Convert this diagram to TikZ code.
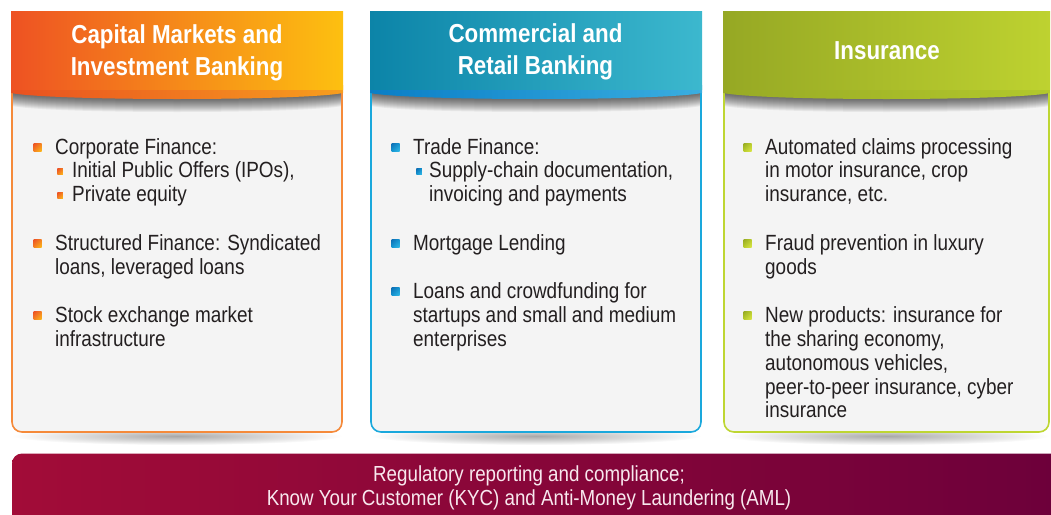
\documentclass[tikz,border=0pt]{standalone}
\usepackage{fontspec}
\setmainfont{Liberation Sans}[FakeStretch=0.86]
\usetikzlibrary{shadings}
\definecolor{txtc}{HTML}{231F20}
\definecolor{bodyc}{HTML}{F4F4F4}
% column A (orange)
\definecolor{AhL}{RGB}{238,82,35}
\definecolor{AhM}{RGB}{244,128,34}
\definecolor{AhR}{RGB}{253,192,16}
\definecolor{AbL}{RGB}{233,80,32}
\definecolor{AbR}{RGB}{247,158,30}
\definecolor{Abd}{RGB}{245,138,58}
\definecolor{AqL}{RGB}{236,80,36}
\definecolor{AqM}{RGB}{245,130,34}
\definecolor{AqR}{RGB}{252,186,24}
% column B (blue)
\definecolor{BhL}{RGB}{12,132,168}
\definecolor{BhM}{RGB}{4,164,196}
\definecolor{BhR}{RGB}{60,184,206}
\definecolor{BbL}{RGB}{10,126,198}
\definecolor{BbR}{RGB}{58,174,224}
\definecolor{Bbd}{RGB}{26,168,220}
\definecolor{BqL}{RGB}{14,110,180}
\definecolor{BqM}{RGB}{20,150,210}
\definecolor{BqR}{RGB}{50,185,230}
% column C (lime)
\definecolor{ChL}{RGB}{150,168,36}
\definecolor{ChM}{RGB}{154,168,38}
\definecolor{ChR}{RGB}{190,210,48}
\definecolor{CbL}{RGB}{152,170,37}
\definecolor{CbR}{RGB}{178,200,44}
\definecolor{Cbd}{RGB}{190,214,50}
\definecolor{CqL}{RGB}{150,170,35}
\definecolor{CqM}{RGB}{185,205,45}
\definecolor{CqR}{RGB}{218,230,70}
% bottom bar
\definecolor{RgL}{RGB}{162,12,56}
\definecolor{RgR}{RGB}{108,0,58}
\definecolor{RgT}{RGB}{248,232,238}

\newcommand\mypanel[3]{%
  \pgfmathsetmacro\pmid{(#1+#2)/2}%
  \pgfmathsetmacro\prad{(#2-#1)/2}%
  \shade[inner color=black!34, outer color=white] (\pmid,436) ellipse [x radius=\prad, y radius=9];
  \fill[bodyc, rounded corners=10pt] (#1,60) rectangle (#2,432);
  \begin{scope}
    \clip (#1,89) rectangle (#2,140);
    \foreach \s in {1,...,13}
      \fill[black, opacity=0.055] (#1,85) -- (#2,85) -- (#2,93+\s)
        .. controls (#2-40,101+\s) and (#1+40,101+\s) .. (#1,93+\s) -- cycle;
  \end{scope}
  \draw[#3bd, line width=1.6pt, rounded corners=10pt] (#1,60) rectangle (#2,432);
  \shade[left color=#3bL, right color=#3bR] (#1-1,85) -- (#2+1,85) -- (#2+1,93)
      .. controls (#2-40,101) and (#1+40,101) .. (#1-1,93) -- cycle;
  \shade[left color=#3hL, middle color=#3hM, right color=#3hR] (#1-1,11) rectangle (#2+1,89);
}

\begin{document}
\begin{tikzpicture}[x=1pt, y=-1pt,
  itm/.style={anchor=base west, inner sep=0pt, text=txtc,
    font=\fontsize{22}{23.9}\selectfont},
  hdr/.style={anchor=base, inner sep=0pt, text=white,
    font=\fontsize{26}{31.7}\selectfont\bfseries},
  regtext/.style={anchor=base, inner sep=0pt, text=RgT,
    font=\fontsize{21.8}{24}\selectfont},
  bulA/.style={shade, minimum size=8pt, inner sep=0pt,
    upper left=AqL, upper right=AqM, lower left=AqM, lower right=AqR},
  subA/.style={bulA, minimum size=5.5pt},
  bulB/.style={shade, minimum size=8pt, inner sep=0pt,
    upper left=BqL, upper right=BqM, lower left=BqM, lower right=BqR},
  subB/.style={bulB, minimum size=5.5pt},
  bulC/.style={shade, minimum size=8pt, inner sep=0pt,
    upper left=CqL, upper right=CqM, lower left=CqM, lower right=CqR},
]
\useasboundingbox (0,0) rectangle (1051,514);
\clip (0,0) rectangle (1051,514);

\mypanel{12}{342}{A}
\mypanel{371}{701}{B}
\mypanel{724}{1049}{C}

% headers
\node[hdr] (hA) at (177,43.3) {\parbox[t]{320pt}{\centering Capital Markets and\\Investment Banking}};
\node[hdr] (hB) at (535.5,42.8) {\parbox[t]{320pt}{\centering Commercial and\\Retail Banking}};
\node[hdr] (hC) at (887,59.3) {Insurance};

% column A
\node[bulA] (a1b) at (37.5,147) {};
\node[itm] (a1) at (55,154) {Corporate Finance:};
\node[subA] (a1sb1) at (60,171.4) {};
\node[itm] (a1s1) at (72,177.9) {Initial Public Offers (IPOs),};
\node[subA] (a1sb2) at (60,195.3) {};
\node[itm] (a1s2) at (72,201.8) {Private equity};
\node[bulA] (a2b) at (37.5,243.1) {};
\node[itm] (a2) at (55,250.1) {\parbox[t]{290pt}{Structured Finance: Syndicated\\loans, leveraged loans}};
\node[bulA] (a3b) at (37.5,315.3) {};
\node[itm] (a3) at (55,322.3) {\parbox[t]{290pt}{Stock exchange market\\infrastructure}};

% column B
\node[bulB] (b1b) at (395.5,147) {};
\node[itm] (b1) at (413,154) {Trade Finance:};
\node[subB] (b1sb) at (419,171.4) {};
\node[itm] (b1s) at (429,177.9) {\parbox[t]{280pt}{Supply-chain documentation,\\invoicing and payments}};
\node[bulB] (b2b) at (395.5,243.1) {};
\node[itm] (b2) at (413,250.1) {Mortgage Lending};
\node[bulB] (b3b) at (395.5,291.4) {};
\node[itm] (b3) at (413,298.4) {\parbox[t]{290pt}{Loans and crowdfunding for\\startups and small and medium\\enterprises}};

% column C
\node[bulC] (c1b) at (747.5,147) {};
\node[itm] (c1) at (765,154) {\parbox[t]{285pt}{Automated claims processing\\in motor insurance, crop\\insurance, etc.}};
\node[bulC] (c2b) at (747.5,243.1) {};
\node[itm] (c2) at (765,250.1) {\parbox[t]{285pt}{Fraud prevention in luxury\\goods}};
\node[bulC] (c3b) at (747.5,315.3) {};
\node[itm] (c3) at (765,322.3) {\parbox[t]{285pt}{New products: insurance for\\the sharing economy,\\autonomous vehicles,\\peer-to-peer insurance, cyber\\insurance}};

% bottom bar
\shade[left color=RgL, right color=RgR, rounded corners=10pt] (12,453.5) rectangle (1075,540);
\node[regtext] (reg) at (529,481) {\parbox[t]{800pt}{\centering Regulatory reporting and compliance;\\Know Your Customer (KYC) and Anti-Money Laundering (AML)}};
\end{tikzpicture}
\end{document}
